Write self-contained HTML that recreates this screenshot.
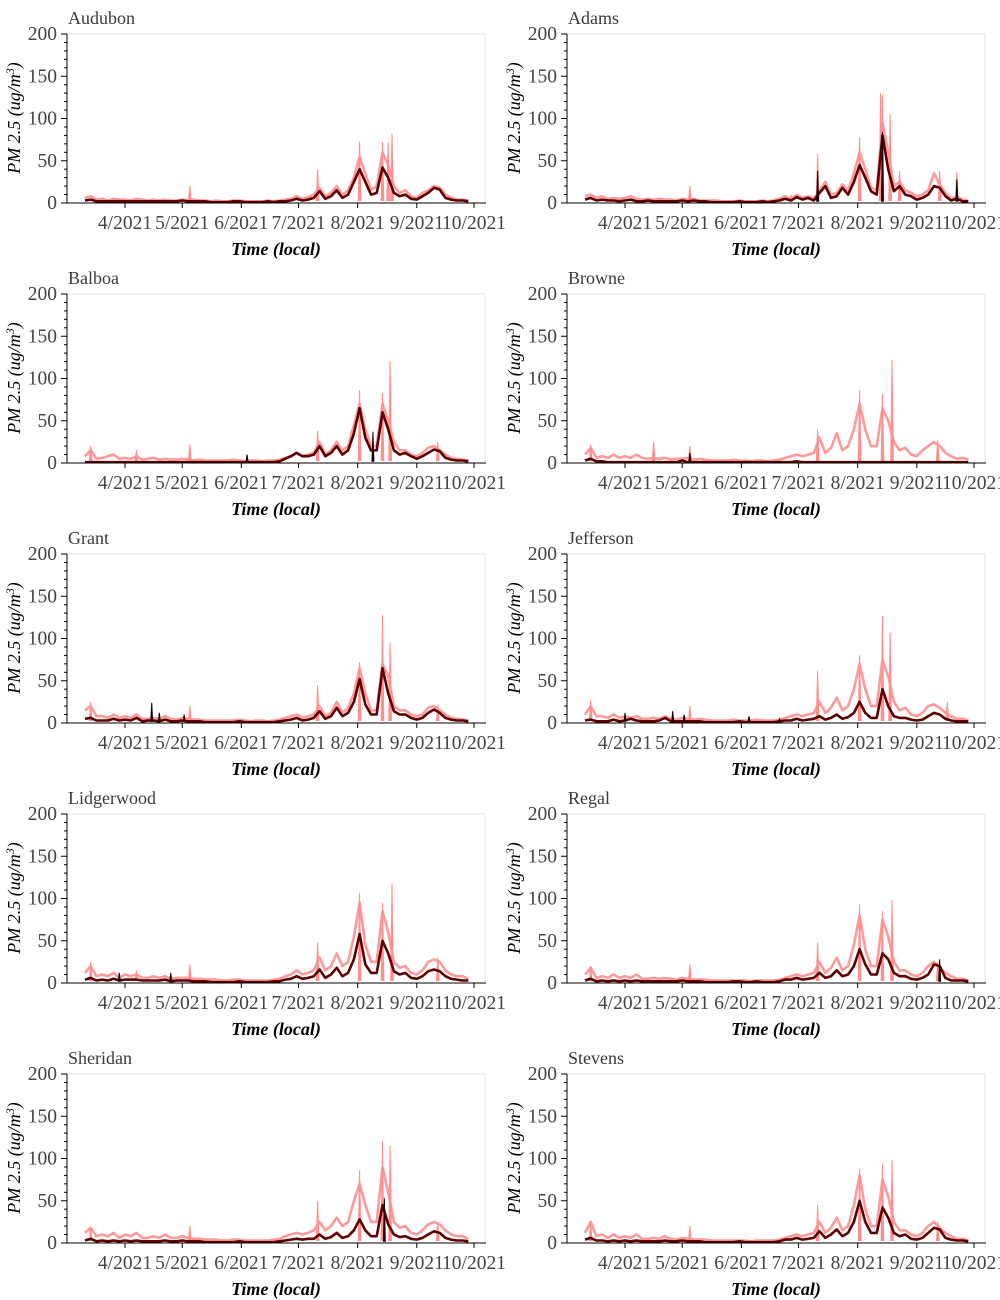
<!DOCTYPE html>
<html><head><meta charset="utf-8"><style>
html,body{margin:0;padding:0;background:#fff;}
svg{display:block;font-family:"Liberation Serif",serif;}
</style></head><body>
<svg id="chart" width="1000" height="1300" viewBox="0 0 1000 1300"></svg>
<script>
// Shared time axis: days since 2021-03-01 (3-day steps)
const days = [10,13,16,19,22,25,28,31,34,37,40,43,46,49,52,55,58,61,64,67,70,73,76,79,82,85,88,91,94,97,100,103,106,109,112,115,118,121,124,127,130,133,136,139,142,145,148,151,154,157,160,163,166,169,172,175,178,181,184,187,190,193,196,199,202,205,208,211];
const monthTicks = [31,61,92,122,153,184,214];
const monthLabels = ["4/2021","5/2021","6/2021","7/2021","8/2021","9/2021","10/2021"];
const yTicks = [0,50,100,150,200];
const stations = ["Audubon","Adams","Balboa","Browne","Grant","Jefferson","Lidgerwood","Regal","Sheridan","Stevens"];

const pinkAudubon = [6,8,4,5,3,5,4,4,3,5,4,3,4,3,4,3,3,4,3,4,3,3,2,3,2,2,3,3,2,2,2,2,3,2,3,4,5,8,5,7,10,18,8,12,20,10,15,30,55,35,15,20,60,45,20,12,15,8,6,12,15,20,18,10,6,4,4,3];
const darkAudubon = [3,4,2,2,2,2,2,2,2,2,2,2,2,2,2,2,2,3,2,2,2,2,1,1,1,1,2,2,1,1,1,1,2,1,2,2,3,5,3,4,6,14,5,8,15,6,10,25,40,25,10,12,42,30,12,8,10,5,4,8,12,18,16,6,4,3,3,2];
const spikeDaysAudubon = [65,132,154,166,169,171];
const spikeValsAudubon = [20,40,73,72,72,82];

const pinkAdams = [8,10,6,8,5,6,5,6,8,5,4,5,4,5,4,4,3,5,4,5,3,3,3,3,2,2,2,3,2,2,2,3,2,3,5,8,4,10,6,8,5,15,25,10,12,22,15,35,60,40,18,15,95,60,20,25,15,12,8,10,15,35,22,12,5,8,4,3];
const darkAdams = [4,6,3,4,3,3,2,3,4,2,2,3,2,2,2,2,2,3,2,3,2,2,1,1,1,1,1,2,1,1,1,2,1,2,3,5,3,7,4,6,3,12,20,6,8,18,10,25,45,30,14,10,80,40,14,20,10,8,4,6,10,20,18,8,3,5,2,2];
const spikeDaysAdams = [65,118,132,154,165,166,170,175,196,205];
const spikeValsAdams = [20,10,58,78,130,128,105,38,38,37];
const dkSpikeDaysAdams = [132,166,205];
const dkSpikeValsAdams = [38,84,28];

const pinkBalboa = [8,15,5,6,8,10,5,6,5,8,4,5,6,4,5,4,4,5,4,3,4,3,3,3,3,3,4,3,2,3,3,2,3,3,4,6,8,12,8,10,12,25,10,15,25,15,20,45,70,40,20,20,70,50,25,15,15,10,8,12,18,20,15,10,6,5,4,3];
const darkBalboa = [1,1,1,1,1,1,1,1,1,1,1,1,1,1,1,1,1,1,1,1,1,1,1,1,1,1,1,1,1,1,1,1,1,1,2,5,8,12,8,8,10,20,8,12,20,10,15,35,65,30,15,15,60,40,15,10,12,8,5,8,12,16,14,6,4,3,3,2];
const spikeDaysBalboa = [13,37,65,132,154,166,170,195];
const spikeValsBalboa = [20,15,22,38,86,83,121,25];
const dkSpikeDaysBalboa = [95,161];
const dkSpikeValsBalboa = [10,37];

const pinkBrowne = [10,18,6,8,6,10,6,8,6,10,6,5,6,5,6,4,5,5,6,4,5,4,3,3,3,3,4,3,3,2,3,3,2,3,4,6,8,10,8,10,12,30,12,18,35,15,20,40,70,40,20,20,65,50,25,15,18,10,8,15,20,25,20,12,8,5,6,4];
const darkBrowne = [3,5,2,2,1,1,1,1,1,1,1,1,1,1,1,1,1,3,1,1,1,1,1,1,1,1,1,1,1,1,1,1,1,1,1,1,1,2,1,1,1,1,1,1,1,1,1,1,1,1,1,1,1,1,1,1,1,1,1,1,1,1,1,1,1,1,1,1];
const spikeDaysBrowne = [13,46,65,132,154,166,171,195];
const spikeValsBrowne = [22,25,20,40,86,82,122,27];
const dkSpikeDaysBrowne = [65];
const dkSpikeValsBrowne = [12];

const pinkGrant = [15,20,8,8,6,10,6,8,6,10,5,5,6,5,8,5,4,6,5,4,4,3,3,3,3,3,3,4,3,2,3,3,2,3,4,6,8,10,6,8,10,20,8,12,25,12,18,35,65,35,15,15,70,55,20,15,15,10,8,10,18,20,15,10,6,5,4,3];
const darkGrant = [5,6,3,3,3,5,3,4,3,6,2,3,3,2,4,2,2,3,2,2,2,1,1,1,1,1,1,2,1,1,1,1,1,1,2,3,4,6,3,4,6,14,5,8,18,8,12,25,52,22,10,10,65,35,14,10,10,6,4,6,12,16,12,6,4,3,3,2];
const spikeDaysGrant = [13,65,132,154,166,170,195];
const spikeValsGrant = [25,20,45,72,128,95,22];
const dkSpikeDaysGrant = [45,49,62];
const dkSpikeValsGrant = [24,12,10];

const pinkJefferson = [10,20,8,8,6,10,6,8,6,8,5,5,6,5,8,5,4,6,5,4,5,4,3,3,3,3,4,3,3,3,4,3,3,3,4,6,8,10,8,10,12,25,12,18,30,15,20,40,70,40,20,20,75,55,25,15,18,10,8,12,20,22,18,12,8,5,5,3];
const darkJefferson = [3,4,2,2,2,4,2,3,5,3,2,2,2,3,6,2,2,2,2,2,2,1,1,1,1,1,1,2,1,1,1,1,1,1,2,3,3,5,3,4,5,8,4,6,10,5,7,12,25,12,6,6,40,20,8,6,6,4,3,4,8,12,10,5,3,2,2,2];
const spikeDaysJefferson = [13,65,132,154,166,170,200];
const spikeValsJefferson = [28,20,62,80,127,107,25];
const dkSpikeDaysJefferson = [31,56,62,96,112];
const dkSpikeValsJefferson = [12,14,10,8,5];

const pinkLidgerwood = [12,20,8,10,8,12,6,10,8,10,6,6,8,6,8,5,6,6,6,5,5,4,4,4,3,3,4,4,3,3,3,3,3,4,5,8,10,15,10,12,15,30,15,20,35,20,25,55,95,45,25,25,85,60,25,18,20,12,10,15,25,28,25,15,10,8,8,5];
const darkLidgerwood = [4,6,3,4,3,5,3,4,4,4,3,3,3,3,4,2,3,3,3,2,2,2,1,1,1,1,1,2,1,1,1,1,1,2,2,4,5,8,5,6,8,16,6,10,18,8,12,28,58,22,12,12,50,35,14,10,12,6,5,8,14,16,14,8,5,4,3,3];
const spikeDaysLidgerwood = [13,37,65,132,154,166,171,195];
const spikeValsLidgerwood = [25,15,22,48,107,95,118,30];
const dkSpikeDaysLidgerwood = [28,55];
const dkSpikeValsLidgerwood = [12,12];

const pinkRegal = [10,18,6,8,6,10,6,8,6,10,5,5,6,5,6,5,4,6,5,4,4,4,3,3,3,3,3,3,3,2,3,3,3,3,4,6,8,10,8,10,12,25,12,18,30,15,20,45,80,40,20,20,75,55,25,15,15,10,8,12,20,25,18,12,8,5,5,3];
const darkRegal = [3,5,2,3,2,3,2,3,2,3,2,2,2,2,2,2,2,3,2,2,2,1,1,1,1,1,2,2,1,1,2,1,1,1,2,4,4,6,4,5,6,12,6,8,15,8,10,20,40,22,10,10,35,28,12,8,8,5,4,6,10,22,20,6,3,3,3,2];
const spikeDaysRegal = [13,65,132,154,166,171,195];
const spikeValsRegal = [20,22,48,93,85,98,25];
const dkSpikeDaysRegal = [196];
const dkSpikeValsRegal = [28];

const pinkSheridan = [12,18,8,10,8,12,6,10,8,12,6,6,8,6,10,6,6,8,6,5,5,4,4,4,3,3,4,4,3,3,3,3,3,4,5,8,10,12,10,12,15,25,15,20,30,20,25,50,70,45,25,25,90,60,25,18,20,12,10,15,22,25,22,15,10,8,8,5];
const darkSheridan = [3,5,2,3,2,3,2,3,2,3,2,2,2,2,3,2,2,3,2,2,2,1,1,1,1,1,1,2,1,1,1,1,1,1,2,3,4,5,4,5,5,10,5,7,12,6,8,15,28,15,8,8,45,22,10,7,8,5,4,6,10,14,12,6,4,3,3,2];
const spikeDaysSheridan = [13,65,132,154,166,170,195];
const spikeValsSheridan = [18,20,50,86,121,115,25];
const dkSpikeDaysSheridan = [167];
const dkSpikeValsSheridan = [53];

const pinkStevens = [12,25,8,10,6,10,6,8,6,10,5,5,6,5,8,5,4,6,5,4,4,4,3,3,3,3,3,3,3,2,3,3,3,3,4,6,8,10,8,10,12,25,12,18,30,15,20,45,80,40,20,20,75,55,25,15,15,10,8,12,20,25,18,12,8,5,5,3];
const darkStevens = [4,6,3,3,2,3,2,3,2,3,2,2,2,2,3,2,2,3,2,2,2,1,1,1,1,1,1,2,1,1,1,1,1,1,2,4,4,6,4,5,6,14,6,10,16,8,12,25,50,25,12,12,42,30,12,8,10,5,4,6,12,18,16,6,4,3,3,2];
const spikeDaysStevens = [13,65,132,154,166,171,195];
const spikeValsStevens = [26,20,45,88,93,98,25];
const dkSpikeDaysStevens = [];
const dkSpikeValsStevens = [];

const pinkSeries = [pinkAudubon,pinkAdams,pinkBalboa,pinkBrowne,pinkGrant,pinkJefferson,pinkLidgerwood,pinkRegal,pinkSheridan,pinkStevens];
const darkSeries = [darkAudubon,darkAdams,darkBalboa,darkBrowne,darkGrant,darkJefferson,darkLidgerwood,darkRegal,darkSheridan,darkStevens];
const spikeDays = [spikeDaysAudubon,spikeDaysAdams,spikeDaysBalboa,spikeDaysBrowne,spikeDaysGrant,spikeDaysJefferson,spikeDaysLidgerwood,spikeDaysRegal,spikeDaysSheridan,spikeDaysStevens];
const spikeVals = [spikeValsAudubon,spikeValsAdams,spikeValsBalboa,spikeValsBrowne,spikeValsGrant,spikeValsJefferson,spikeValsLidgerwood,spikeValsRegal,spikeValsSheridan,spikeValsStevens];
const dkSpikeDays = [[],dkSpikeDaysAdams,dkSpikeDaysBalboa,dkSpikeDaysBrowne,dkSpikeDaysGrant,dkSpikeDaysJefferson,dkSpikeDaysLidgerwood,dkSpikeDaysRegal,dkSpikeDaysSheridan,dkSpikeDaysStevens];
const dkSpikeVals = [[],dkSpikeValsAdams,dkSpikeValsBalboa,dkSpikeValsBrowne,dkSpikeValsGrant,dkSpikeValsJefferson,dkSpikeValsLidgerwood,dkSpikeValsRegal,dkSpikeValsSheridan,dkSpikeValsStevens];

const NS = "http://www.w3.org/2000/svg";
const svg = document.getElementById("chart");
function mk(tag, attrs, parent){ const e=document.createElementNS(NS,tag); for(const k in attrs) e.setAttribute(k,attrs[k]); parent.appendChild(e); return e; }

stations.forEach((name, s) => {
  const ox = (s%2)*500, oy = Math.floor(s/2)*260;
  const L = ox+67, R = ox+486, T = oy+34, B = oy+203;
  const xs = d => ox + 65.9 + d*1.907;
  const ys = v => B - v*(B-T)/200;
  const g = mk("g",{},svg);
  
  

  const frame = mk("rect",{x:L,y:T,width:R-L-1,height:B-T,fill:"none",stroke:"#e6e6e6","stroke-width":1},g);
  
  

  const title = mk("text",{x:ox+68,y:oy+24,"font-size":18,fill:"#3a3a3a"},g);
  title.textContent = name;
  
  

  const pp = days.map((d,i)=>xs(d).toFixed(1)+","+ys(pinkSeries[s][i]).toFixed(1)).join(" ");
  const pl = mk("polyline",{points:pp,fill:"none",stroke:"#ff8f8f","stroke-width":2.6,"stroke-linejoin":"round",opacity:0.9},g);
  
  
  spikeDays[s].forEach((d,i)=>{
    const sp = mk("polygon",{points:`${xs(d-0.7)},${ys(3)} ${xs(d)},${ys(spikeVals[s][i])} ${xs(d+0.7)},${ys(3)}`,fill:"#ff8f8f",stroke:"#ff8f8f","stroke-width":1},g);
    
    
  });
  const dp = days.map((d,i)=>xs(d).toFixed(1)+","+ys(darkSeries[s][i]).toFixed(1)).join(" ");
  const dl = mk("polyline",{points:dp,fill:"none",stroke:"#5e0000","stroke-width":2.6,"stroke-linejoin":"round"},g);
  
  
  dkSpikeDays[s].forEach((d,i)=>{
    const sp = mk("polygon",{points:`${xs(d-0.5)},${ys(2)} ${xs(d)},${ys(dkSpikeVals[s][i])} ${xs(d+0.5)},${ys(2)}`,fill:"#1a0000",stroke:"#1a0000","stroke-width":1},g);
    
    
  });

  const ya = mk("line",{x1:L,y1:T,x2:L,y2:B,stroke:"#000","stroke-width":1},g);
  
  
  const xa = mk("line",{x1:L,y1:B,x2:R,y2:B,stroke:"#000","stroke-width":1},g);
  
  
  for(let v=0; v<=200; v+=10){
    const major = v%50===0;
    mk("line",{x1:L-(major?6:3),y1:ys(v),x2:L,y2:ys(v),stroke:"#000","stroke-width":1},g);
  }
  yTicks.forEach(v=>{
    const t = mk("text",{x:L-10,y:ys(v)+6,"font-size":19.5,fill:"#444","text-anchor":"end"},g);
    t.textContent = v;
    
    
  });
  monthTicks.forEach((d,i)=>{
    mk("line",{x1:xs(d),y1:B,x2:xs(d),y2:B+5,stroke:"#000","stroke-width":1},g);
    const t = mk("text",{x:xs(d),y:B+26,"font-size":19.5,fill:"#444","text-anchor":"middle"},g);
    t.textContent = monthLabels[i];
    
    
  });
  const xt = mk("text",{x:ox+276,y:oy+255,"font-size":18,"font-style":"italic","font-weight":"bold",fill:"#000","text-anchor":"middle"},g);
  xt.textContent = "Time (local)";
  
  
  const yt = mk("text",{x:0,y:0,"font-size":18,"font-style":"italic",fill:"#000","text-anchor":"middle",transform:`translate(${ox+20},${oy+118}) rotate(-90)`},g);
  yt.innerHTML = 'PM 2.5 (ug/m<tspan dy="-6" font-size="12">3</tspan><tspan dy="6">)</tspan>';
  
  
});
</script>
</body></html>
